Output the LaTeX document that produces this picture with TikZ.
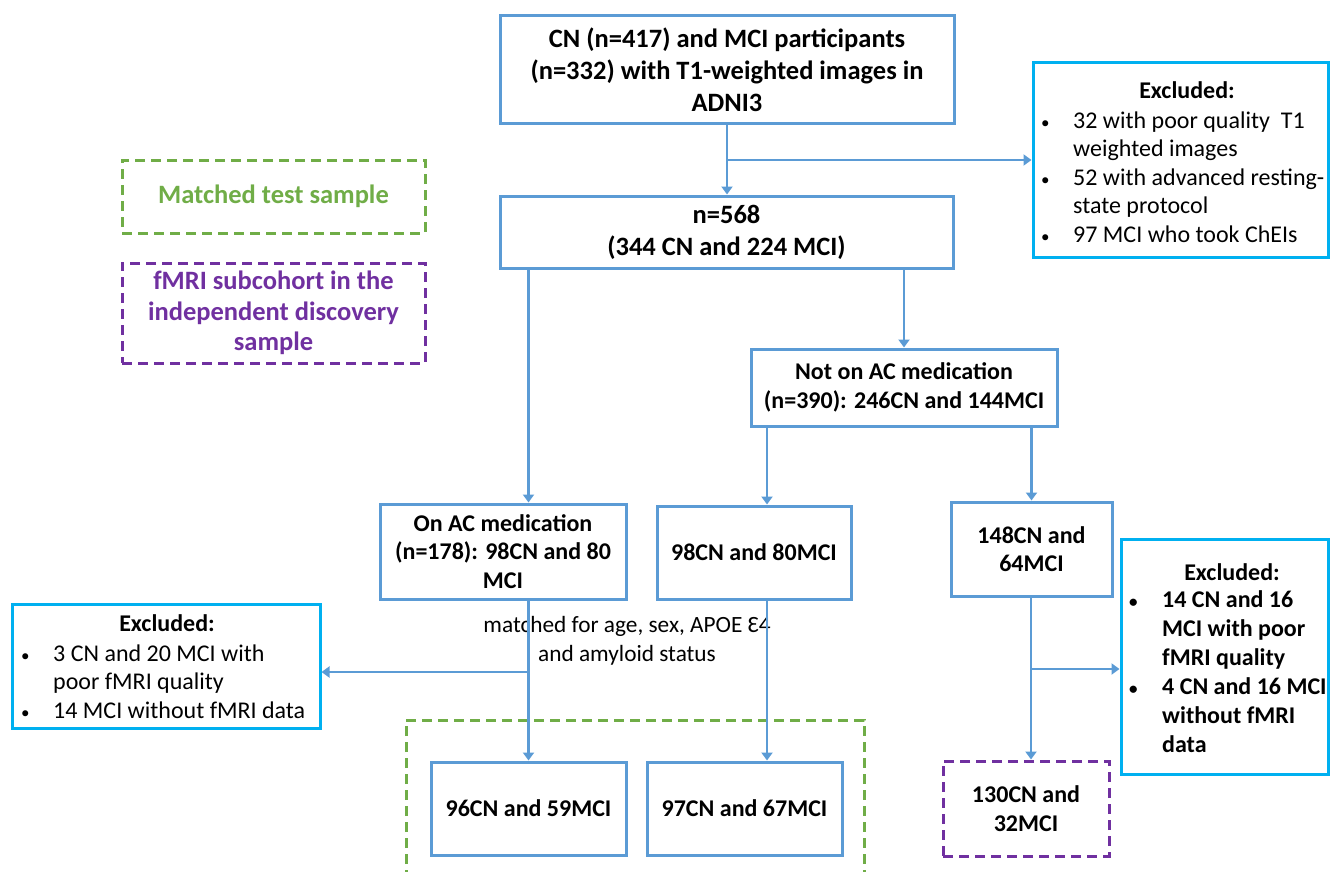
\documentclass[tikz,border=0pt]{standalone}
\usepackage{fontspec}
\setmainfont{Carlito}
\usetikzlibrary{arrows.meta}
\definecolor{mainblue}{HTML}{5B9BD5}
\definecolor{exblue}{HTML}{00B0F0}
\definecolor{mgreen}{HTML}{70AD47}
\definecolor{mpurple}{HTML}{7030A0}
\newcommand{\bul}{{\fontsize{17}{17}\selectfont\textbullet}}
\tikzset{
  box/.style={draw=mainblue, line width=3pt, inner sep=0pt, align=center, font=\bfseries\fontsize{24}{28.5}\selectfont},
  bigbox/.style={box, font=\bfseries\fontsize{26.5}{32}\selectfont},
  exbox/.style={draw=exblue, line width=3pt, inner sep=0pt},
  extitle/.style={inner sep=0pt, font=\bfseries\fontsize{24}{29}\selectfont},
  exlist/.style={anchor=north west, inner sep=0pt, align=left},
  gdash/.style={draw=mgreen, line width=3pt, dash pattern=on 10pt off 6pt},
  pdash/.style={draw=mpurple, line width=3pt, dash pattern=on 10pt off 6pt},
  conn/.style={draw=mainblue, line width=2.8pt},
  arr/.style={conn, -{Triangle[width=11pt,length=8pt]}},
}
\begin{document}
\begin{tikzpicture}[x=1pt,y=-1pt]
\useasboundingbox (0,0) rectangle (1330,872);
% main boxes
\node[bigbox, minimum width=454pt, minimum height=108pt] (top) at (727,70)
  {CN (n=417) and MCI participants\\(n=332) with T1-weighted images in\\ADNI3};
\node[bigbox, minimum width=453pt, minimum height=72pt] (n568) at (726.5,232)
  {n=568\\(344 CN and 224 MCI)};
\node[box, minimum width=306pt, minimum height=77pt] (notAC) at (904,387.5)
  {Not on AC medication\\(n=390): 246CN and 144MCI};
\node[box, minimum width=246pt, minimum height=95pt] (onAC) at (503,551.5)
  {On AC medication\\(n=178): 98CN and 80\\MCI};
\node[box, minimum width=194pt, minimum height=93pt] (n98) at (754,552.5)
  {98CN and 80MCI};
\node[box, minimum width=161pt, minimum height=94pt] (n148) at (1031.5,549)
  {148CN and\\64MCI};
\node[box, minimum width=195pt, minimum height=93pt] (n96) at (528.5,808.5)
  {96CN and 59MCI};
\node[box, minimum width=195pt, minimum height=93pt] (n97) at (744.5,808.5)
  {97CN and 67MCI};
\node[box, pdash, minimum width=166pt, minimum height=95pt] (n130) at (1026,808.5)
  {130CN and\\32MCI};
% legends
\node[box, gdash, text=mgreen, font=\bfseries\fontsize{26.5}{30.5}\selectfont, minimum width=303pt, minimum height=73pt] (legG) at (273.5,196.5)
  {Matched test sample};
\node[box, pdash, text=mpurple, font=\bfseries\fontsize{26.5}{30.5}\selectfont, minimum width=303pt, minimum height=100pt] (legP) at (273.5,313)
  {fMRI subcohort in the\\independent discovery\\sample};
% excluded top
\node[exbox, minimum width=295pt, minimum height=194pt] (exTop) at (1180.5,160) {};
\node[extitle] (exTopH) at (1187,90) {Excluded:};
\node[exlist, font=\fontsize{24}{28.5}\selectfont] (exTopT) at (1041,108)
  {\begin{tabular}{@{}p{32pt}@{}l@{}}
   \bul & 32 with poor quality\ \ T1\\
   & weighted images\\
   \bul & 52 with advanced resting-\\
   & state protocol\\
   \bul & 97 MCI who took ChEIs
   \end{tabular}};
% excluded left
\node[exbox, minimum width=308pt, minimum height=124pt] (exLeft) at (166,666) {};
\node[extitle] (exLeftH) at (167,623) {Excluded:};
\node[exlist, font=\fontsize{24}{28.5}\selectfont] (exLeftT) at (21,641)
  {\begin{tabular}{@{}p{32pt}@{}l@{}}
   \bul & 3 CN and 20 MCI with\\
   & poor fMRI quality\\
   \bul & 14 MCI without fMRI data
   \end{tabular}};
% excluded right
\node[exbox, minimum width=207pt, minimum height=235pt] (exRight) at (1224.5,656.5) {};
\node[extitle] (exRightH) at (1232,572) {Excluded:};
\node[exlist, font=\bfseries\fontsize{24}{29}\selectfont] (exRightT) at (1129,587)
  {\begin{tabular}{@{}p{33pt}@{}l@{}}
   \bul & 14 CN and 16\\
   & MCI with poor\\
   & fMRI quality\\
   \bul & 4 CN and 16 MCI\\
   & without fMRI\\
   & data
   \end{tabular}};
% matched text
\node[align=center, inner sep=0pt, font=\fontsize{23.3}{29}\selectfont] (mt) at (627,641)
  {matched for age, sex, APOE Ɛ4\\and amyloid status};
% green dashed region (open at bottom)
\draw[gdash] (406,880) -- (406,720) -- (864,720) -- (864,880);
% connectors
\coordinate (b1) at (727,160);
\draw[arr] (top.south) -- (top.south |- n568.north);
\draw[arr] (b1) -- (exTop.west);
\coordinate (p1) at (528.5,268);
\draw[arr] (p1) -- (p1 |- onAC.north);
\draw[arr] (n568.south -| notAC.north) -- (notAC.north);
\coordinate (p2) at (767,426);
\draw[arr] (p2) -- (p2 |- n98.north);
\draw[arr] (notAC.south -| n148.north) -- (n148.north);
\coordinate (p3) at (528.5,599);
\draw[arr] (p3) -- (p3 |- n96.north);
\coordinate (b2) at (528.5,672);
\draw[arr] (b2) -- (b2 -| exLeft.east);
\coordinate (p4) at (767,599);
\draw[arr] (p4) -- (p4 |- n97.north);
\coordinate (p5) at (1031,596);
\draw[arr] (p5) -- (p5 |- n130.north);
\coordinate (b3) at (1031,669);
\draw[arr] (b3) -- (b3 -| exRight.west);
\end{tikzpicture}
\end{document}
